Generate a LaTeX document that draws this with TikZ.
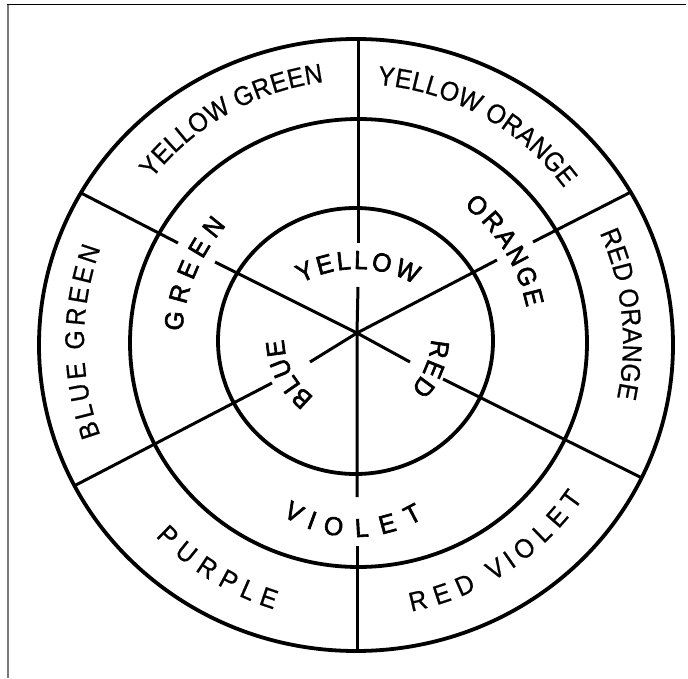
\documentclass[tikz,border=0pt]{standalone}
\usepackage{fontspec}
\usetikzlibrary{decorations.text}
\newfontfamily\outerfont[FakeStretch=0.92, FakeBold=0.6]{Liberation Sans}
\newfontfamily\innerfont[FakeStretch=0.95, FakeBold=2.4]{Liberation Sans}
\newcommand\outerlab{\outerfont\fontsize{27}{30}\selectfont}
\newcommand\innerlab{\innerfont\fontsize{26}{30}\selectfont}
\tikzset{
  ring/.style={line width=3.8pt},
  spoke/.style={line width=3pt},
  frameleft/.style={line width=2pt, black!52},
  frametop/.style={line width=1.5pt, black},
  arclabel/.style n args={2}{decorate, decoration={text effects along path, text={#2},
      text effects/.cd, text along path, fit text to path,
      every character/.style={font=#1, inner sep=0pt}}}
}
\begin{document}
\begin{tikzpicture}[x=1pt,y=1pt]
\useasboundingbox (0,0) rectangle (688,678);
% frame
\coordinate (FL1) at (7.5,673.5);
\coordinate (FL2) at (7.5,0);
\coordinate (FT1) at (6.5,673.5);
\coordinate (FT2) at (686,673.5);
\draw[frameleft] (FL1) -- (FL2);
\draw[frametop] (FT1) -- (FT2);
% rings
\draw[ring] (356,333) ellipse [x radius=317, y radius=306];
\draw[ring] (358.5,335) ellipse [x radius=228.5, y radius=224];
\draw[ring] (355.5,337) ellipse [x radius=137.5, y radius=133];
% spokes
\coordinate (C) at (357,345);
\coordinate (Vt) at (358,640);
\coordinate (Vg1) at (358,435);
\coordinate (Vg2) at (358,391);
\coordinate (Vb1) at (357,181);
\coordinate (Vb2) at (357,132);
\coordinate (Vb) at (357,26);
\coordinate (ULo) at (81,485);
\coordinate (ULg1) at (178,435);
\coordinate (ULg2) at (215,416);
\coordinate (URo) at (631,486);
\coordinate (URg1) at (533,436);
\coordinate (URg2) at (497,418);
\coordinate (LRg1) at (410,316);
\coordinate (LRg2) at (443,299);
\coordinate (LRo) at (642,200);
\coordinate (LLg1) at (310,316);
\coordinate (LLg2) at (272,295);
\coordinate (LLo) at (74,192);
\draw[spoke] (Vt) -- (Vg1);
\draw[spoke] (Vg2) -- (C) -- (Vb1);
\draw[spoke] (Vb2) -- (Vb);
\draw[spoke] (ULo) -- (ULg1);
\draw[spoke] (ULg2) -- (C);
\draw[spoke] (URo) -- (URg1);
\draw[spoke] (URg2) -- (C);
\draw[spoke] (C) -- (LRg1);
\draw[spoke] (LRg2) -- (LRo);
\draw[spoke] (C) -- (LLg1);
\draw[spoke] (LLg2) -- (LLo);
% label centres
\coordinate (O) at (357,336);
\coordinate (OY) at (357,294);
\coordinate (OV) at (355,274);
\coordinate (OI) at (357,340);
% outer ring labels
\path[arclabel={\outerlab}{YELLOW GREEN}] ([shift={(141.5:262)}]O) arc[start angle=141.5, end angle=97.3, radius=262];
\path[arclabel={\outerlab}{YELLOW ORANGE}] ([shift={(85.5:258)}]O) arc[start angle=85.5, end angle=36.6, radius=258];
\path[arclabel={\outerlab}{RED ORANGE}] ([shift={(24.2:266)}]O) arc[start angle=24.2, end angle=-12.2, radius=266];
\path[arclabel={\outerlab}{BLUE GREEN}] ([shift={(200:273)}]O) arc[start angle=200, end angle=159.9, radius=273];
\path[arclabel={\outerlab}{PURPLE}] ([shift={(224:280)}]O) arc[start angle=224, end angle=252.7, radius=280];
\path[arclabel={\outerlab}{RED VIOLET}] ([shift={(281.4:275)}]O) arc[start angle=281.4, end angle=325.3, radius=275];
% middle ring labels
\path[arclabel={\innerlab}{GREEN}] ([shift={(176.5:175)}]O) arc[start angle=176.5, end angle=138.3, radius=175];
\path[arclabel={\innerlab}{ORANGE}] ([shift={(51.8:173)}]O) arc[start angle=51.8, end angle=11.5, radius=173];
\path[arclabel={\innerlab}{VIOLET}] ([shift={(237:133)}]OV) arc[start angle=237, end angle=300.8, radius=133];
% inner labels
\path[arclabel={\innerlab}{YELLOW}] ([shift={(119:115)}]OY) arc[start angle=119, end angle=60, radius=115];
\path[arclabel={\innerlab}{RED}] ([shift={(-1:74)}]OI) arc[start angle=-1, end angle=-43.5, radius=74];
\path[arclabel={\innerlab}{BLUE}] ([shift={(234:73)}]OI) arc[start angle=234, end angle=181, radius=73];
\end{tikzpicture}
\end{document}
